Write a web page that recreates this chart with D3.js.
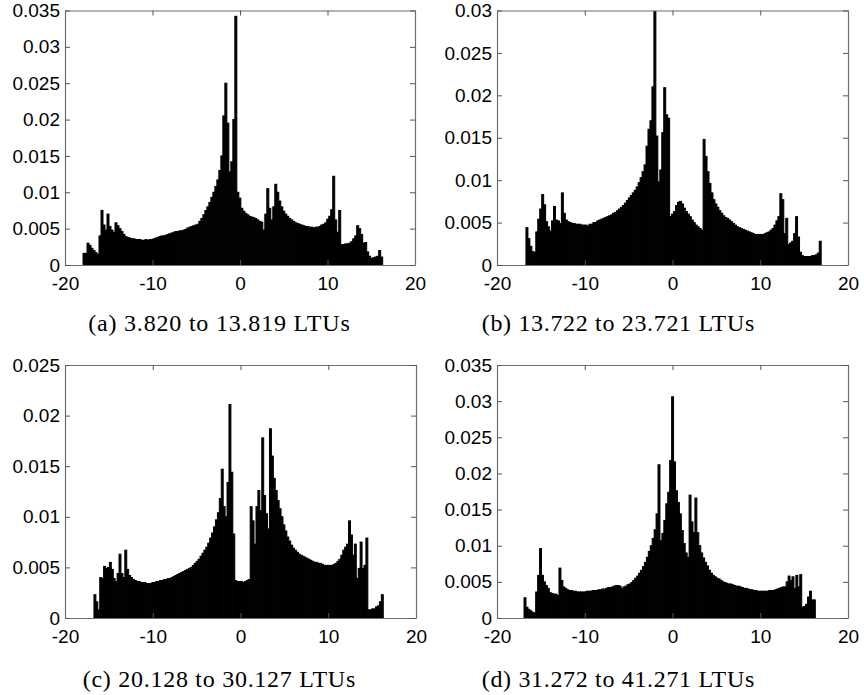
<!DOCTYPE html>
<html>
<head>
<meta charset="utf-8">
<script src="https://cdn.jsdelivr.net/npm/d3@7"></script>
<style>
  body { margin: 0; background: #fff; }
  svg { display: block; }
</style>
</head>
<body>
<svg id="chart" width="864" height="695"></svg>
<script>
// tick values and captions
const xTicks = [-20, -10, 0, 10, 20];
const yTicksA = [0, 0.005, 0.01, 0.015, 0.02, 0.025, 0.03, 0.035];
const yTicksB = [0, 0.005, 0.01, 0.015, 0.02, 0.025, 0.03];
const yTicksC = [0, 0.005, 0.01, 0.015, 0.02, 0.025];
const yTicksD = [0, 0.005, 0.01, 0.015, 0.02, 0.025, 0.03, 0.035];
const captions = [
  '(a) 3.820 to 13.819 LTUs',
  '(b) 13.722 to 23.721 LTUs',
  '(c) 20.128 to 30.127 LTUs',
  '(d) 31.272 to 41.271 LTUs'
];

// histogram bins: left edge of first bin and bin width, then the bar heights
const binStart = [-17.94, -16.70, -16.70, -16.92];
const binWidth = [0.2283, 0.2243, 0.2198, 0.2213];

const densA = [
  0.0016,0.0016,0.0030,0.0027,0.0023,0.0020,0.0017,0.0015,0.0040,0.0075,
  0.0055,0.0048,0.0070,0.0053,0.0048,0.0045,0.0058,0.0054,0.0050,0.0046,
  0.0042,0.0039,0.0038,0.0037,0.0036,0.0036,0.0035,0.0035,0.0035,0.0034,
  0.0034,0.0035,0.0034,0.0035,0.0035,0.0036,0.0037,0.0038,0.0039,0.0040,
  0.0040,0.0041,0.0042,0.0043,0.0044,0.0045,0.0046,0.0046,0.0047,0.0047,
  0.0048,0.0049,0.0051,0.0052,0.0053,0.0054,0.0055,0.0056,0.0060,0.0064,
  0.0069,0.0075,0.0080,0.0086,0.0093,0.0100,0.0108,0.0117,0.0130,0.0150,
  0.0205,0.0250,0.0195,0.0128,0.0142,0.0200,0.0342,0.0100,0.0092,0.0078,
  0.0074,0.0071,0.0069,0.0067,0.0066,0.0065,0.0064,0.0062,0.0060,0.0059,
  0.0048,0.0070,0.0105,0.0078,0.0062,0.0080,0.0111,0.0100,0.0088,0.0080,
  0.0074,0.0070,0.0067,0.0064,0.0062,0.0060,0.0058,0.0057,0.0056,0.0055,
  0.0054,0.0053,0.0053,0.0052,0.0052,0.0051,0.0052,0.0052,0.0053,0.0055,
  0.0056,0.0058,0.0063,0.0067,0.0076,0.0122,0.0062,0.0045,0.0075,0.0028,
  0.0028,0.0029,0.0029,0.0030,0.0032,0.0036,0.0040,0.0054,0.0050,0.0042,
  0.0030,0.0031,0.0018,0.0012,0.0009,0.0010,0.0011,0.0012,0.0020,0.0011
];

const densB = [
  0.0044,0.0031,0.0022,0.0016,0.0015,0.0039,0.0054,0.0066,0.0083,0.0071,
  0.0051,0.0045,0.0040,0.0052,0.0069,0.0053,0.0052,0.0049,0.0085,0.0061,
  0.0053,0.0051,0.0050,0.0049,0.0049,0.0048,0.0048,0.0048,0.0047,0.0047,
  0.0047,0.0046,0.0048,0.0048,0.0050,0.0050,0.0052,0.0053,0.0054,0.0055,
  0.0056,0.0057,0.0058,0.0059,0.0061,0.0062,0.0064,0.0066,0.0068,0.0070,
  0.0073,0.0076,0.0079,0.0082,0.0085,0.0088,0.0092,0.0097,0.0103,0.0110,
  0.0118,0.0140,0.0160,0.0170,0.0210,0.0299,0.0152,0.0098,0.0112,0.0156,
  0.0209,0.0177,0.0173,0.0057,0.0060,0.0063,0.0070,0.0074,0.0075,0.0072,
  0.0067,0.0063,0.0060,0.0057,0.0053,0.0050,0.0047,0.0045,0.0043,0.0041,
  0.0148,0.0128,0.0110,0.0096,0.0085,0.0077,0.0072,0.0068,0.0064,0.0061,
  0.0058,0.0056,0.0055,0.0053,0.0051,0.0049,0.0047,0.0045,0.0044,0.0043,
  0.0042,0.0041,0.0040,0.0039,0.0038,0.0037,0.0036,0.0036,0.0036,0.0036,
  0.0036,0.0037,0.0038,0.0039,0.0041,0.0043,0.0047,0.0052,0.0057,0.0084,
  0.0077,0.0037,0.0055,0.0024,0.0026,0.0028,0.0037,0.0057,0.0033,0.0015,
  0.0011,0.0010,0.0010,0.0010,0.0010,0.0011,0.0011,0.0012,0.0014,0.0028
];

const densC = [
  0.0023,0.0016,0.0008,0.0040,0.0039,0.0051,0.0049,0.0050,0.0055,0.0048,
  0.0039,0.0036,0.0044,0.0063,0.0044,0.0040,0.0067,0.0048,0.0042,0.0040,
  0.0038,0.0037,0.0036,0.0036,0.0035,0.0035,0.0035,0.0034,0.0034,0.0034,
  0.0035,0.0035,0.0036,0.0036,0.0037,0.0037,0.0038,0.0038,0.0039,0.0039,
  0.0040,0.0041,0.0042,0.0043,0.0044,0.0045,0.0046,0.0047,0.0048,0.0049,
  0.0050,0.0052,0.0054,0.0056,0.0058,0.0061,0.0064,0.0067,0.0070,0.0074,
  0.0079,0.0084,0.0090,0.0097,0.0104,0.0118,0.0147,0.0110,0.0100,0.0134,
  0.0211,0.0144,0.0083,0.0037,0.0036,0.0036,0.0036,0.0035,0.0036,0.0037,
  0.0038,0.0110,0.0096,0.0073,0.0110,0.0126,0.0106,0.0178,0.0121,0.0103,
  0.0088,0.0187,0.0160,0.0138,0.0126,0.0116,0.0108,0.0100,0.0092,0.0086,
  0.0080,0.0076,0.0072,0.0069,0.0067,0.0065,0.0063,0.0062,0.0061,0.0060,
  0.0059,0.0058,0.0057,0.0056,0.0055,0.0055,0.0054,0.0054,0.0053,0.0052,
  0.0052,0.0052,0.0052,0.0052,0.0053,0.0054,0.0056,0.0058,0.0062,0.0067,
  0.0070,0.0073,0.0096,0.0082,0.0062,0.0073,0.0039,0.0049,0.0075,0.0049,
  0.0052,0.0079,0.0008,0.0008,0.0009,0.0009,0.0011,0.0012,0.0016,0.0023
];

const densD = [
  0.0028,0.0015,0.0012,0.0010,0.0008,0.0007,0.0036,0.0059,0.0096,0.0059,
  0.0050,0.0045,0.0041,0.0035,0.0034,0.0033,0.0033,0.0031,0.0069,0.0052,
  0.0043,0.0041,0.0039,0.0038,0.0038,0.0037,0.0037,0.0036,0.0036,0.0036,
  0.0036,0.0036,0.0037,0.0037,0.0037,0.0038,0.0038,0.0038,0.0039,0.0039,
  0.0040,0.0040,0.0041,0.0042,0.0042,0.0043,0.0044,0.0045,0.0045,0.0044,
  0.0041,0.0043,0.0044,0.0046,0.0047,0.0049,0.0052,0.0055,0.0058,0.0062,
  0.0066,0.0071,0.0077,0.0084,0.0092,0.0100,0.0110,0.0122,0.0144,0.0212,
  0.0107,0.0117,0.0135,0.0158,0.0174,0.0218,0.0306,0.0216,0.0176,0.0160,
  0.0144,0.0121,0.0103,0.0090,0.0084,0.0170,0.0133,0.0118,0.0166,0.0118,
  0.0100,0.0090,0.0083,0.0077,0.0072,0.0066,0.0062,0.0059,0.0057,0.0055,
  0.0054,0.0052,0.0050,0.0049,0.0048,0.0047,0.0047,0.0046,0.0045,0.0044,
  0.0044,0.0043,0.0042,0.0041,0.0041,0.0040,0.0039,0.0039,0.0038,0.0038,
  0.0037,0.0037,0.0037,0.0037,0.0037,0.0037,0.0038,0.0038,0.0038,0.0039,
  0.0040,0.0041,0.0042,0.0043,0.0043,0.0050,0.0058,0.0052,0.0057,0.0041,
  0.0059,0.0043,0.0060,0.0015,0.0016,0.0019,0.0029,0.0037,0.0025,0.0025
];

const series = [densA, densB, densC, densD];
const yTickSets = [yTicksA, yTicksB, yTicksC, yTicksD];

// where each subplot sits on the page
const frames = [
  { left: 65,  right: 415, top: 10.5, bottom: 265, capX: 219, capY: 331 },
  { left: 497, right: 848, top: 10.5, bottom: 265, capX: 618, capY: 331 },
  { left: 65,  right: 416, top: 365,  bottom: 618, capX: 219, capY: 687 },
  { left: 497, right: 848, top: 365,  bottom: 618, capX: 618, capY: 687 }
];

const svg = d3.select('#chart');
const tickFont = '"Liberation Sans", Arial, Helvetica, sans-serif';
const capFont = '"Liberation Serif", "Times New Roman", serif';

frames.forEach((f, k) => {
  const yTicks = yTickSets[k];
  const x = d3.scaleLinear().domain([-20, 20]).range([f.left, f.right]);
  const y = d3.scaleLinear().domain([0, d3.max(yTicks)]).range([f.bottom, f.top]);
  const w = binWidth[k];

  const bins = series[k].map((v, i) => ({ x0: binStart[k] + i * w, v }));

  const g = svg.append('g');

  g.selectAll('rect')
    .data(bins)
    .join('rect')
    .attr('x', d => x(d.x0))
    .attr('width', d => x(d.x0 + w) - x(d.x0))
    .attr('y', d => y(d.v))
    .attr('height', d => f.bottom - y(d.v))
    .attr('fill', '#000')
    .attr('stroke', '#000')
    .attr('stroke-width', 1);

  // axes with inward ticks on all four sides
  const styleAxis = (sel) => {
    sel.select('.domain').attr('stroke', '#6e6e6e').attr('stroke-width', 1.2);
    sel.selectAll('.tick line').attr('stroke', '#555');
    sel.selectAll('text')
      .attr('font-family', tickFont)
      .attr('font-size', 19)
      .attr('fill', '#000');
  };

  g.append('g')
    .attr('transform', `translate(0,${f.bottom})`)
    .call(d3.axisBottom(x).tickValues(xTicks).tickSizeInner(-5).tickSizeOuter(0).tickPadding(12)
      .tickFormat(d => String(d)))
    .call(styleAxis);

  g.append('g')
    .attr('transform', `translate(0,${f.top})`)
    .call(d3.axisTop(x).tickValues(xTicks).tickSizeInner(-5).tickSizeOuter(0).tickFormat(''))
    .call(styleAxis);

  g.append('g')
    .attr('transform', `translate(${f.left},0)`)
    .call(d3.axisLeft(y).tickValues(yTicks).tickSizeInner(-5).tickSizeOuter(0).tickPadding(5)
      .tickFormat(d => String(d)))
    .call(styleAxis);

  g.append('g')
    .attr('transform', `translate(${f.right},0)`)
    .call(d3.axisRight(y).tickValues(yTicks).tickSizeInner(-5).tickSizeOuter(0).tickFormat(''))
    .call(styleAxis);

  svg.append('text')
    .attr('x', f.capX)
    .attr('y', f.capY)
    .attr('text-anchor', 'middle')
    .attr('font-family', capFont)
    .attr('font-size', 24)
    .attr('textLength', captions[k].length * 10.9)
    .attr('lengthAdjust', 'spacing')
    .text(captions[k]);
});
</script>
</body>
</html>
